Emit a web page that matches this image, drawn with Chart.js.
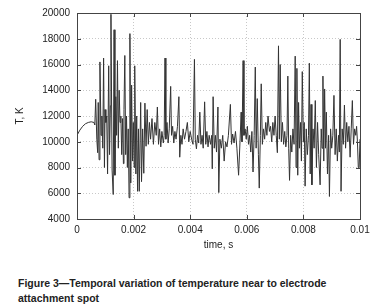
<!DOCTYPE html>
<html>
<head>
<meta charset="utf-8">
<script src="https://cdn.jsdelivr.net/npm/chart.js@4.4.0/dist/chart.umd.min.js"></script>
<style>
  html, body { margin: 0; padding: 0; background: #fff; }
  #wrap { position: relative; width: 380px; height: 307px; overflow: hidden; }
  #c { position: absolute; left: 0; top: 0; }
  #caption {
    position: absolute; left: 18px; top: 276px; width: 362px;
    font-family: "Liberation Sans", Arial, sans-serif; font-weight: bold;
    font-size: 10.5px; line-height: 15px; color: #222; letter-spacing: 0;
  }
</style>
</head>
<body>
<div id="wrap">
  <canvas id="c" width="380" height="258"></canvas>
  <div id="caption">Figure 3—Temporal variation of temperature near to electrode<br>attachment spot</div>
</div>
<script>
// time (s) and temperature (K)
var timeS = [
  0, 0.0001, 0.0002, 0.0003, 0.0004, 0.0005, 0.0006, 0.00063, 0.00066, 0.0007,
  0.00073, 0.00075, 0.00078, 0.00081, 0.00085, 0.00088, 0.00091, 0.00094, 0.00097, 0.00099,
  0.00102, 0.00105, 0.00108, 0.00112, 0.00115, 0.00118, 0.0012, 0.00124, 0.00128, 0.00131,
  0.00134, 0.00137, 0.0014, 0.00143, 0.00146, 0.00149, 0.00152, 0.00155, 0.00158, 0.00161,
  0.00164, 0.00166, 0.00169, 0.00172, 0.00175, 0.00178, 0.00181, 0.00184, 0.00187, 0.0019,
  0.00193, 0.00196, 0.00199, 0.00202, 0.00204, 0.00208, 0.00211, 0.00214, 0.00217, 0.0022,
  0.00225, 0.00228, 0.00232, 0.00236, 0.0024, 0.00244, 0.00248, 0.00252, 0.00256, 0.0026,
  0.00265, 0.0027, 0.00275, 0.0028, 0.00284, 0.00288, 0.00292, 0.00296, 0.003, 0.00305,
  0.00308, 0.00311, 0.00314, 0.00318, 0.00322, 0.00326, 0.00331, 0.00334, 0.00338, 0.00342,
  0.00346, 0.0035, 0.00355, 0.0036, 0.00363, 0.00367, 0.00371, 0.00375, 0.0038, 0.00385,
  0.0039, 0.00395, 0.004, 0.00405, 0.0041, 0.00415, 0.00418, 0.00422, 0.00426, 0.0043,
  0.00434, 0.00438, 0.00442, 0.00446, 0.00451, 0.00455, 0.00459, 0.00463, 0.00467, 0.00472,
  0.00476, 0.00478, 0.00481, 0.00485, 0.00489, 0.00493, 0.00498, 0.00501, 0.00505, 0.0051,
  0.00515, 0.0052, 0.00525, 0.0053, 0.00535, 0.00542, 0.00546, 0.0055, 0.00555, 0.0056,
  0.00565, 0.00571, 0.00576, 0.0058, 0.00583, 0.00587, 0.0059, 0.00594, 0.00598, 0.00602,
  0.00606, 0.0061, 0.00614, 0.00618, 0.00622, 0.00626, 0.0063, 0.00633, 0.00637, 0.00641,
  0.00644, 0.00648, 0.00651, 0.00655, 0.00659, 0.00663, 0.00667, 0.00671, 0.00675, 0.0068,
  0.00684, 0.00688, 0.00692, 0.00696, 0.007, 0.00704, 0.00708, 0.00712, 0.00715, 0.00718,
  0.00722, 0.00726, 0.0073, 0.00734, 0.00738, 0.00742, 0.00745, 0.00748, 0.00751, 0.00755,
  0.00759, 0.00763, 0.00767, 0.00771, 0.00774, 0.00777, 0.0078, 0.00783, 0.00786, 0.0079,
  0.00793, 0.00796, 0.008, 0.00803, 0.00806, 0.0081, 0.00814, 0.00818, 0.00821, 0.00824,
  0.00827, 0.0083, 0.00834, 0.00838, 0.00842, 0.00846, 0.0085, 0.00854, 0.00859, 0.00863,
  0.00866, 0.00869, 0.00872, 0.00875, 0.00878, 0.00881, 0.00885, 0.00889, 0.00892, 0.00896,
  0.009, 0.00904, 0.00908, 0.00912, 0.00916, 0.0092, 0.00924, 0.00927, 0.0093, 0.00933,
  0.00937, 0.00941, 0.00945, 0.00949, 0.00953, 0.00957, 0.00961, 0.00965, 0.00969, 0.00973,
  0.00977, 0.00981, 0.00985, 0.00988, 0.00991, 0.00994, 0.00997, 0.01
];
var tempK = [
  10500, 10900, 11200, 11400, 11500, 11550, 11500, 11300, 13300, 10200,
  9150, 13050, 8600, 16200, 10500, 12000, 9500, 16500, 8000, 12500,
  11500, 12000, 7500, 15900, 9000, 12800, 19900, 7800, 5900, 18700,
  7400, 13500, 10500, 16300, 9500, 14000, 11500, 12000, 9000, 11800,
  8300, 12500, 16700, 9000, 12000, 8000, 11000, 5650, 18400, 6800,
  14400, 8500, 11500, 8000, 15900, 7500, 12000, 6150, 11000, 6150,
  13050, 6900, 11000, 7550, 13000, 9650, 12500, 9800, 11500, 10200,
  11800, 9800, 11500, 10500, 12700, 9800, 11000, 9600, 10800, 9900,
  10500, 16500, 10200, 11500, 9900, 11000, 14300, 10500, 11200, 9900,
  10800, 10200, 11200, 13500, 8800, 10500, 9800, 11000, 10200, 10800,
  11500, 10000, 10800, 10200, 9800, 16400, 10200, 9450, 10500, 9900,
  12300, 9800, 10500, 9500, 13100, 9800, 10800, 9600, 10500, 9800,
  10500, 7900, 13500, 9500, 10500, 9200, 12700, 6050, 10200, 9500,
  10500, 8500, 10000, 9600, 10500, 12900, 9800, 10600, 9900, 10800,
  9500, 7400, 10000, 12300, 10000, 16300, 10500, 11000, 10200, 11200,
  9800, 10500, 9200, 10800, 7650, 10500, 15800, 9500, 13350, 9000,
  6400, 10500, 14500, 9800, 11000, 10200, 11500, 10500, 12000, 10800,
  11200, 10000, 11500, 10500, 12000, 10500, 9150, 17450, 10200, 16000,
  10000, 11500, 9800, 10800, 9600, 10500, 15100, 9500, 7000, 10500,
  9200, 11000, 9800, 16650, 8000, 15700, 7400, 13050, 9500, 11500,
  8500, 15450, 10000, 11500, 6550, 11000, 9000, 10500, 16100, 7500,
  12900, 6650, 11000, 9500, 13200, 8000, 11500, 9000, 6650, 11000,
  9500, 15100, 8500, 14100, 9500, 12300, 7500, 10500, 5750, 11000,
  9500, 10500, 13600, 9000, 11000, 8500, 10500, 9200, 17950, 6150,
  11000, 9800, 12850, 9500, 11500, 10000, 11200, 8800, 11000, 13200,
  9800, 11000, 10500, 11200, 10000, 8000, 8000, 10200
];
var xTicks = [0, 0.002, 0.004, 0.006, 0.008, 0.01];
var yTicks = [4000, 6000, 8000, 10000, 12000, 14000, 16000, 18000, 20000];

var points = timeS.map(function (t, i) { return { x: t, y: tempK[i] }; });

// gnuplot-like frame with inward tick marks on all four sides
var framePlugin = {
  id: 'frame',
  afterDraw: function (chart) {
    var a = chart.chartArea, c = chart.ctx;
    var xs = chart.scales.x, ys = chart.scales.y;
    c.save();
    c.strokeStyle = '#444';
    c.lineWidth = 1;
    c.strokeRect(Math.round(a.left) + 0.5, Math.round(a.top) + 0.5,
      Math.round(a.right - a.left), Math.round(a.bottom - a.top));
    c.beginPath();
    xTicks.forEach(function (v) {
      var px = Math.round(xs.getPixelForValue(v)) + 0.5;
      c.moveTo(px, a.bottom); c.lineTo(px, a.bottom - 4);
      c.moveTo(px, a.top); c.lineTo(px, a.top + 4);
    });
    yTicks.forEach(function (v) {
      var py = Math.round(ys.getPixelForValue(v)) + 0.5;
      c.moveTo(a.left, py); c.lineTo(a.left + 4, py);
      c.moveTo(a.right, py); c.lineTo(a.right - 4, py);
    });
    c.stroke();
    c.restore();
  }
};

var font = { family: '"Liberation Sans", Arial, sans-serif', size: 10 };

new Chart(document.getElementById('c').getContext('2d'), {
  type: 'line',
  data: {
    datasets: [{
      data: points,
      borderColor: '#333',
      borderWidth: 1,
      pointRadius: 0,
      tension: 0,
      fill: false
    }]
  },
  options: {
    responsive: false,
    animation: false,
    layout: { padding: { left: 0, top: 8, right: 20, bottom: 0 } },
    plugins: { legend: { display: false }, tooltip: { enabled: false } },
    scales: {
      x: {
        type: 'linear', min: 0, max: 0.01,
        afterBuildTicks: function (s) { s.ticks = xTicks.map(function (v) { return { value: v }; }); },
        afterFit: function (s) { s.height = 39; },
        ticks: {
          color: '#222', font: font, padding: 5, maxRotation: 0,
          callback: function (v) { return String(parseFloat(Number(v).toFixed(3))); }
        },
        grid: { color: '#c8c8c8', drawTicks: false },
        border: { display: false, dash: [1, 2] },
        title: { display: true, text: 'time, s', color: '#222', font: font, padding: { top: 0, bottom: 7 } }
      },
      y: {
        min: 4000, max: 20000,
        afterBuildTicks: function (s) { s.ticks = yTicks.map(function (v) { return { value: v }; }); },
        afterFit: function (s) { s.width = 77; },
        ticks: {
          color: '#222', font: font, padding: 7,
          callback: function (v) { return String(v); }
        },
        grid: { color: '#c8c8c8', drawTicks: false },
        border: { display: false, dash: [1, 2] },
        title: { display: true, text: 'T, K', color: '#222', font: font, padding: { top: 14, bottom: 0 } }
      }
    }
  },
  plugins: [framePlugin]
});
</script>
</body>
</html>
